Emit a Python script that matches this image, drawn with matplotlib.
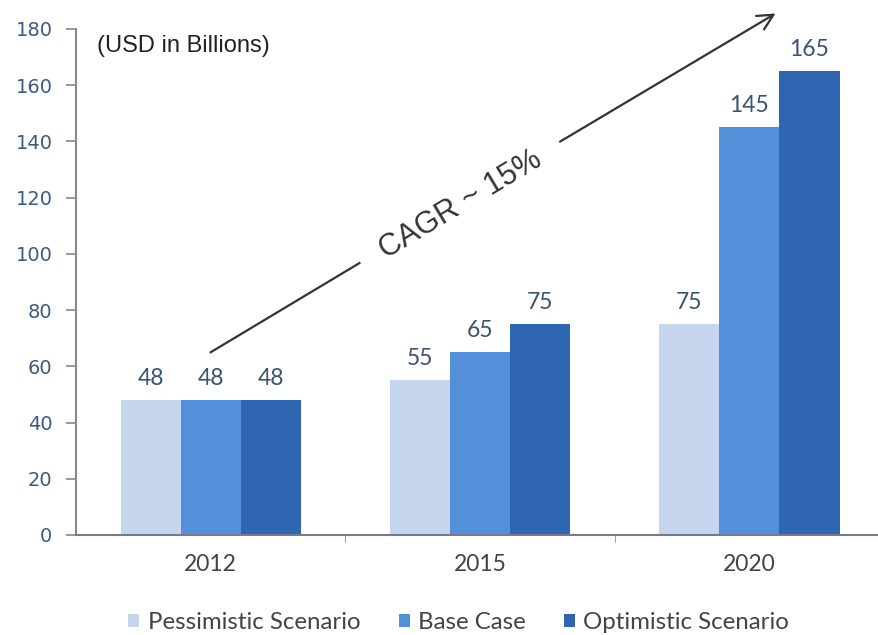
import numpy as np
import matplotlib.pyplot as plt

# market size by scenario (USD bn)
years = ["2012", "2015", "2020"]
scenarios = ["Pessimistic Scenario", "Base Case", "Optimistic Scenario"]
pessimistic = [48, 55, 75]
base_case = [48, 65, 145]
optimistic = [48, 75, 165]
colors = ["#c5d6ee", "#5490d9", "#2e66b1"]

# growth arrow from 2012 level up past the top of the chart
cagr_label = "CAGR ~ 15%"

fig = plt.figure(figsize=(8.79, 6.35), dpi=100)
ax = fig.add_axes([0.0865, 0.1575, 0.9135, 0.797])

x = np.arange(len(years))
w = 0.223
for i, (vals, name) in enumerate(zip([pessimistic, base_case, optimistic], scenarios)):
    pos = x + (i - 1) * w
    ax.bar(pos, vals, width=w, color=colors[i], label=name, zorder=2)
    for px, v in zip(pos, vals):
        ax.annotate(str(v), (px, v), xytext=(0, 8), textcoords="offset points",
                    ha="center", va="bottom", fontsize=16.5, family="Lato",
                    color="#3a5372")

ax.set_xlim(-0.5, 2.481)
ax.set_ylim(0, 180)
ax.set_yticks(range(0, 181, 20))
ax.tick_params(axis="y", labelsize=14, labelcolor="#3d5a80", color="#888888",
               length=7, width=1.2, direction="out", pad=10)
for lab in ax.get_yticklabels():
    lab.set_family("DejaVu Sans")

ax.set_xticks(x)
ax.set_xticklabels(years, family="Lato", fontsize=16.5, color="#444444")
ax.tick_params(axis="x", which="major", length=0, pad=14)
ax.set_xticks([0.5, 1.5], minor=True)
ax.tick_params(axis="x", which="minor", length=5, color="#888888", direction="out")

for s in ["top", "right"]:
    ax.spines[s].set_visible(False)
ax.spines["left"].set_color("#888888")
ax.spines["bottom"].set_color("#7a7a8a")
ax.spines["left"].set_linewidth(1.5)
ax.spines["bottom"].set_linewidth(1.5)

ax.text(0.026, 0.988, "(USD in Billions)", transform=ax.transAxes, fontsize=17,
        family="Liberation Sans", color="#222222", va="top", ha="left")

# arrow broken around the CAGR text
ax.plot([0.0, 0.552], [65, 96.7], color="#333333", lw=1.6, clip_on=False)
ax.annotate("", xy=(2.106, 186), xytext=(1.288, 139.4),
            arrowprops=dict(arrowstyle="->", color="#333333", lw=1.6,
                            mutation_scale=28),
            annotation_clip=False)
ax.text(0.927, 117.5, cagr_label, rotation=31, rotation_mode="anchor",
        ha="center", va="center", fontsize=22, family="Liberation Sans",
        color="#333333")

handles, labels = ax.get_legend_handles_labels()
leg = fig.legend(handles, labels, loc="center", bbox_to_anchor=(0.522, 0.02),
                 ncol=3, frameon=False, handlelength=0.45, handleheight=0.45,
                 handletextpad=0.35, columnspacing=1.6,
                 prop={"family": "Lato", "size": 17.3})
for t in leg.get_texts():
    t.set_color("#444444")

fig.savefig("out.png", dpi=100)
